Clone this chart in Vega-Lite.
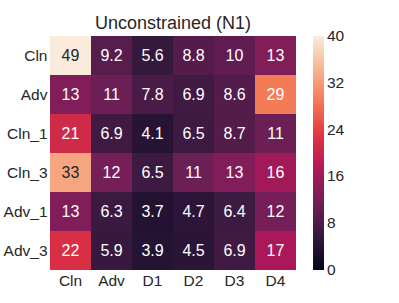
{
  "$schema": "https://vega.github.io/schema/vega-lite/v6.json",
  "autosize": "none",
  "padding": {"left": 50, "top": 36, "right": 103, "bottom": 33},
  "width": 246,
  "height": 234,
  "background": "white",
  "config": {"view": {"stroke": null}, "font": "Liberation Sans"},
  "title": {"text": "Unconstrained (N1)", "fontSize": 18, "fontWeight": "normal", "color": "#262626", "offset": 3, "font": "Liberation Sans"},
  "data": {"values": [
    {"row": "Cln", "col": "Cln", "v": 49}, {"row": "Cln", "col": "Adv", "v": 9.2}, {"row": "Cln", "col": "D1", "v": 5.6}, {"row": "Cln", "col": "D2", "v": 8.8}, {"row": "Cln", "col": "D3", "v": 10}, {"row": "Cln", "col": "D4", "v": 13},
    {"row": "Adv", "col": "Cln", "v": 13}, {"row": "Adv", "col": "Adv", "v": 11}, {"row": "Adv", "col": "D1", "v": 7.8}, {"row": "Adv", "col": "D2", "v": 6.9}, {"row": "Adv", "col": "D3", "v": 8.6}, {"row": "Adv", "col": "D4", "v": 29},
    {"row": "Cln_1", "col": "Cln", "v": 21}, {"row": "Cln_1", "col": "Adv", "v": 6.9}, {"row": "Cln_1", "col": "D1", "v": 4.1}, {"row": "Cln_1", "col": "D2", "v": 6.5}, {"row": "Cln_1", "col": "D3", "v": 8.7}, {"row": "Cln_1", "col": "D4", "v": 11},
    {"row": "Cln_3", "col": "Cln", "v": 33}, {"row": "Cln_3", "col": "Adv", "v": 12}, {"row": "Cln_3", "col": "D1", "v": 6.5}, {"row": "Cln_3", "col": "D2", "v": 11}, {"row": "Cln_3", "col": "D3", "v": 13}, {"row": "Cln_3", "col": "D4", "v": 16},
    {"row": "Adv_1", "col": "Cln", "v": 13}, {"row": "Adv_1", "col": "Adv", "v": 6.3}, {"row": "Adv_1", "col": "D1", "v": 3.7}, {"row": "Adv_1", "col": "D2", "v": 4.7}, {"row": "Adv_1", "col": "D3", "v": 6.4}, {"row": "Adv_1", "col": "D4", "v": 12},
    {"row": "Adv_3", "col": "Cln", "v": 22}, {"row": "Adv_3", "col": "Adv", "v": 5.9}, {"row": "Adv_3", "col": "D1", "v": 3.9}, {"row": "Adv_3", "col": "D2", "v": 4.5}, {"row": "Adv_3", "col": "D3", "v": 6.9}, {"row": "Adv_3", "col": "D4", "v": 17}
  ]},
  "encoding": {
    "x": {"field": "col", "type": "nominal", "sort": ["Cln", "Adv", "D1", "D2", "D3", "D4"], "title": null,
          "axis": {"labelAngle": 0, "domain": false, "ticks": false, "labelFontSize": 15.5, "labelColor": "#262626", "labelPadding": 3, "labelFont": "Liberation Sans"}},
    "y": {"field": "row", "type": "nominal", "sort": ["Cln", "Adv", "Cln_1", "Cln_3", "Adv_1", "Adv_3"], "title": null,
          "axis": {"domain": false, "ticks": false, "labelFontSize": 15.5, "labelColor": "#262626", "labelPadding": 3, "labelFont": "Liberation Sans"}}
  },
  "layer": [
    {
      "mark": {"type": "rect"},
      "encoding": {
        "color": {"field": "v", "type": "quantitative",
          "scale": {"domain": [0, 5.714, 11.429, 17.143, 22.857, 28.571, 34.286, 40],
                    "range": ["#03051A", "#35193E", "#701F57", "#AD1759", "#E13342", "#F37651", "#F6B48F", "#FAEBDD"],
                    "clamp": true, "interpolate": "rgb"},
          "legend": {"type": "gradient", "title": null, "orient": "right", "offset": 17, "gradientLength": 234, "gradientThickness": 11,
                     "gradientStrokeWidth": 0, "values": [0, 8, 16, 24, 32, 40], "labelFontSize": 15.5, "labelColor": "#262626",
                     "labelOffset": 3, "labelFont": "Liberation Sans",
                     "encode": {"labels": {"update": {"baseline": {"value": "middle"}}}}}}
      }
    },
    {
      "mark": {"type": "text", "fontSize": 16, "font": "Liberation Sans"},
      "encoding": {
        "text": {"field": "v", "type": "quantitative", "format": ".2g"},
        "color": {"condition": {"test": "datum.v > 30", "value": "#262626"}, "value": "white"}
      }
    }
  ]
}
